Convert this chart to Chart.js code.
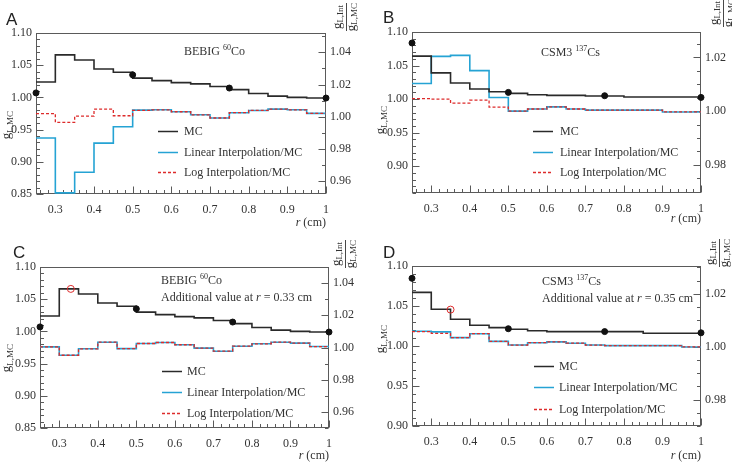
<!DOCTYPE html>
<html>
<head>
<meta charset="utf-8">
<script src="https://cdn.jsdelivr.net/npm/chart.js@4/dist/chart.umd.min.js"></script>
<style>
  body { margin: 0; background: #fff; width: 732px; height: 466px; position: relative; overflow: hidden; }
  .panel { position: absolute; width: 366px; height: 233px; }
</style>
</head>
<body>
<div class="panel" style="left:0;top:0"><canvas id="cA" width="366" height="233"></canvas></div>
<div class="panel" style="left:366px;top:0"><canvas id="cB" width="366" height="233"></canvas></div>
<div class="panel" style="left:0;top:233px"><canvas id="cC" width="366" height="233"></canvas></div>
<div class="panel" style="left:366px;top:233px"><canvas id="cD" width="366" height="233"></canvas></div>
<script>
// bins of r (cm), lower edges; last bin ends at rMax
const binLow = [0.25, 0.30, 0.35, 0.40, 0.45, 0.50, 0.55, 0.60, 0.65, 0.70, 0.75, 0.80, 0.85, 0.90, 0.95];
const rMax = 1.0;
const dotR = [0.25, 0.5, 0.75, 1.0];

// BEBIG 60Co (panels A and C)
const mcBebig = [1.024, 1.066, 1.058, 1.044, 1.039, 1.030, 1.026, 1.023, 1.021, 1.017, 1.012, 1.006, 1.002, 1.000, 0.999];
const dotsBebig = [1.007, 1.035, 1.0145, 0.999];
const linA = [0.9868, 0.9527, 0.9655, 0.9836, 0.9938, 1.0041, 1.0043, 1.0031, 1.0012, 0.9992, 1.0025, 1.0039, 1.0047, 1.0043, 1.0021];
const logA = [1.0019, 0.9965, 1.0004, 1.0047, 1.0006, 1.0039, 1.0043, 1.0031, 1.0012, 0.9992, 1.0025, 1.0039, 1.0047, 1.0043, 1.0021];
const linC = [1.0004, 0.9952, 0.9992, 1.0033, 0.9993, 1.0025, 1.0031, 1.0017, 0.9996, 0.9977, 1.0008, 1.0023, 1.0033, 1.0027, 1.0006];
const logC = [1.0004, 0.9952, 0.9992, 1.0033, 0.9993, 1.0025, 1.0031, 1.0017, 0.9996, 0.9977, 1.0008, 1.0023, 1.0033, 1.0027, 1.0006];
const extraC = { r: 0.33, g: 1.066 };

// CSM3 137Cs (panels B and D)
const mcCsmB = [1.064, 1.039, 1.024, 1.015, 1.011, 1.0085, 1.0065, 1.0055, 1.0055, 1.0045, 1.0045, 1.003, 1.003, 1.003, 1.003];
const dotsCsmB = [1.0836, 1.010, 1.005, 1.0025];
const linB = [1.0103, 1.0204, 1.0208, 1.0151, 1.0051, 1.0000, 1.0008, 1.0016, 1.0008, 1.0004, 1.0004, 1.0004, 1.0004, 0.9997, 0.9997];
const logB = [1.0047, 1.0045, 1.0030, 1.0041, 1.0015, 1.0000, 1.0008, 1.0016, 1.0008, 1.0004, 1.0004, 1.0004, 1.0004, 0.9997, 0.9997];
const mcCsmD = [1.067, 1.046, 1.0335, 1.026, 1.023, 1.021, 1.019, 1.018, 1.018, 1.018, 1.018, 1.018, 1.016, 1.016, 1.016];
const dotsCsmD = [1.0846, 1.0216, 1.018, 1.0165];
const linD = [1.0058, 1.0056, 1.0034, 1.0049, 1.0020, 1.0006, 1.0015, 1.0018, 1.0013, 1.0006, 1.0004, 1.0004, 1.0004, 1.0004, 0.9999];
const logD = [1.0057, 1.0050, 1.0034, 1.0049, 1.0020, 1.0006, 1.0015, 1.0018, 1.0013, 1.0006, 1.0004, 1.0004, 1.0004, 1.0004, 0.9999];
const extraD = { r: 0.35, g: 1.0455 };

// tick labels
const xTicks = [0.3, 0.4, 0.5, 0.6, 0.7, 0.8, 0.9, 1.0];
const yTicksCo = [0.85, 0.90, 0.95, 1.00, 1.05, 1.10];
const y2TicksCo = [0.96, 0.98, 1.00, 1.02, 1.04];
const yTicksCs = [0.90, 0.95, 1.00, 1.05, 1.10];
const y2TicksCs = [0.98, 1.00, 1.02];

const BLACK = '#2a2a2a', BLUE = '#25a3d4', RED = '#dd2b2b', FRAME = '#5a5a5a';
const SERIF = '"Liberation Serif", "DejaVu Serif", serif';

function hist(vals) {
  const pts = binLow.map((x, i) => ({ x: x, y: vals[i] }));
  pts.push({ x: rMax, y: vals[vals.length - 1] });
  return pts;
}

function steps(from, to, step) {
  const out = [];
  const n = Math.round((to - from) / step);
  for (let i = 0; i <= n; i++) out.push(+(from + i * step).toFixed(4));
  return out;
}

// draws rich text: parts = [[text, size, dy, italic]]
function rich(ctx, x, y, parts, align) {
  let w = 0;
  parts.forEach(p => { ctx.font = (p[3] ? 'italic ' : '') + p[1] + 'px ' + SERIF; w += ctx.measureText(p[0]).width; });
  let cx = align === 'right' ? x - w : align === 'center' ? x - w / 2 : x;
  parts.forEach(p => {
    ctx.font = (p[3] ? 'italic ' : '') + p[1] + 'px ' + SERIF;
    ctx.textAlign = 'left';
    ctx.fillText(p[0], cx, y + p[2]);
    cx += ctx.measureText(p[0]).width;
  });
  return w;
}

const deco = {
  id: 'deco',
  beforeDatasetsDraw(chart, args, o) {
    const { ctx, chartArea: a, scales } = chart;
    const L = Math.round(a.left) + 0.5, R = Math.round(a.right) - 0.5;
    const T = Math.round(a.top) + 0.5, B = Math.round(a.bottom) - 0.5;
    ctx.save();
    ctx.strokeStyle = FRAME;
    ctx.lineWidth = 1;
    ctx.strokeRect(L, T, R - L, B - T);
    ctx.beginPath();
    // x ticks, pointing up
    steps(0.26, 1.0, 0.02).forEach(v => {
      const px = Math.round(scales.x.getPixelForValue(v)) + 0.5;
      const major = xTicks.some(t => Math.abs(t - v) < 1e-6);
      ctx.moveTo(px, B); ctx.lineTo(px, B - (major ? 7 : 3.5));
    });
    // left ticks
    steps(o.yMinor[0], o.yMinor[1], 0.01).forEach(v => {
      const py = Math.round(scales.y.getPixelForValue(v)) + 0.5;
      const major = o.yTicks.some(t => Math.abs(t - v) < 1e-6);
      ctx.moveTo(L, py); ctx.lineTo(L + (major ? 7 : 3.5), py);
    });
    // right ticks
    steps(o.y2Minor[0], o.y2Minor[1], o.y2Minor[2]).forEach(v => {
      const py = Math.round(scales.y2.getPixelForValue(v)) + 0.5;
      const major = o.y2Ticks.some(t => Math.abs(t - v) < 1e-6);
      ctx.moveTo(R, py); ctx.lineTo(R - (major ? 7 : 3.5), py);
    });
    ctx.stroke();
    ctx.restore();
  },
  afterDraw(chart, args, o) {
    const { ctx, chartArea: a } = chart;
    ctx.save();
    ctx.fillStyle = '#222';
    ctx.textBaseline = 'alphabetic';
    // panel letter
    ctx.font = '17px "Liberation Sans", Arial, sans-serif';
    ctx.fillText(o.letter, o.letterPos[0], o.letterPos[1]);
    // labels in plot
    ctx.fillStyle = '#333';
    rich(ctx, o.labelPos[0], o.labelPos[1], o.source);
    if (o.extra) {
      rich(ctx, o.labelPos[0], o.labelPos[1] + 17, [['Additional value at ', 12, 0], ['r', 12, 0, true], [' = ' + o.extra + ' cm', 12, 0]]);
    }
    // legend
    const rows = [['MC', BLACK, []], ['Linear Interpolation/MC', BLUE, []], ['Log Interpolation/MC', RED, [3, 2]]];
    rows.forEach((r, i) => {
      const y = o.legend.y[i] + 0.5;
      ctx.strokeStyle = r[1];
      ctx.lineWidth = 1.5;
      ctx.setLineDash(r[2]);
      ctx.beginPath(); ctx.moveTo(o.legend.x0, y); ctx.lineTo(o.legend.x1, y); ctx.stroke();
      ctx.setLineDash([]);
      rich(ctx, o.legend.tx, o.legend.y[i] + 4, [[r[0], 12, 0]]);
    });
    // x axis title
    rich(ctx, a.right, o.xTitleY, [['r', 12, 0, true], [' (cm)', 12, 0]], 'right');
    // left axis title
    ctx.save();
    ctx.translate(o.leftTitle[0], o.leftTitle[1]);
    ctx.rotate(-Math.PI / 2);
    rich(ctx, 0, 4, [['g', 13, 0], ['L,MC', 9, 3]], 'center');
    ctx.restore();
    // right axis title (fraction)
    ctx.save();
    ctx.translate(o.rightTitle[0], o.rightTitle[1]);
    ctx.rotate(-Math.PI / 2);
    rich(ctx, 0, -5, [['g', 13, 0], ['L,Int', 9, 2]], 'center');
    rich(ctx, 0, 9, [['g', 13, 0], ['L,MC', 9, 2]], 'center');
    ctx.strokeStyle = '#333'; ctx.lineWidth = 0.9;
    ctx.beginPath(); ctx.moveTo(-14, 0.5); ctx.lineTo(14, 0.5); ctx.stroke();
    ctx.restore();
    ctx.restore();
  }
};

function makePanel(id, p) {
  const datasets = [
    { label: 'points', data: dotR.map((r, i) => ({ x: r, y: p.dots[i] })), yAxisID: 'y', showLine: false,
      pointRadius: 3, pointBackgroundColor: '#111', pointBorderColor: '#111', clip: false, order: 0 }
  ];
  if (p.extraPoint) {
    datasets.push({ label: 'additional', data: [{ x: p.extraPoint.r, y: p.extraPoint.g }], yAxisID: 'y', showLine: false,
      pointRadius: 3.5, pointBackgroundColor: 'rgba(0,0,0,0)', pointBorderColor: RED, pointBorderWidth: 1, clip: false, order: 0 });
  }
  datasets.push(
    { label: 'MC', data: hist(p.mc), yAxisID: 'y', showLine: true, stepped: 'before', borderColor: BLACK, borderWidth: 1.6, pointRadius: 0, order: 1 },
    { label: 'Log Interpolation/MC', data: hist(p.log), yAxisID: 'y2', showLine: true, stepped: 'before', borderColor: RED, borderWidth: 1.3, borderDash: [3, 2], pointRadius: 0, order: 2 },
    { label: 'Linear Interpolation/MC', data: hist(p.lin), yAxisID: 'y2', showLine: true, stepped: 'before', borderColor: BLUE, borderWidth: 1.6, pointRadius: 0, order: 3 }
  );
  const fixTicks = arr => (scale) => { scale.ticks = arr.map(v => ({ value: v })); };
  return new Chart(document.getElementById(id), {
    type: 'scatter',
    data: { datasets: datasets },
    options: {
      responsive: false,
      animation: false,
      devicePixelRatio: 1,
      layout: { padding: { top: p.box.top, left: 0, right: 0, bottom: 0 } },
      scales: {
        x: {
          type: 'linear', min: 0.25, max: rMax,
          grid: { display: false, drawTicks: false }, border: { display: false },
          afterBuildTicks: fixTicks(xTicks),
          afterFit: s => { s.height = 233 - p.box.bottom; },
          ticks: { padding: 9, color: '#333', font: { family: SERIF, size: 12 }, maxRotation: 0,
            callback: v => (v === 1 ? '1' : v.toFixed(1)) }
        },
        y: {
          position: 'left', min: p.yRange[0], max: p.yRange[1],
          grid: { display: false, drawTicks: false }, border: { display: false },
          afterBuildTicks: fixTicks(p.yTicks),
          afterFit: s => { s.width = p.box.left; },
          ticks: { padding: 4, color: '#333', font: { family: SERIF, size: 12 }, callback: v => v.toFixed(2) }
        },
        y2: {
          position: 'right', min: p.y2Range[0], max: p.y2Range[1],
          grid: { display: false, drawTicks: false }, border: { display: false },
          afterBuildTicks: fixTicks(p.y2Ticks),
          afterFit: s => { s.width = 366 - p.box.right; },
          ticks: { padding: 4, color: '#333', font: { family: SERIF, size: 12 }, callback: v => v.toFixed(2) }
        }
      },
      plugins: {
        legend: { display: false },
        tooltip: { enabled: false },
        deco: p.deco
      }
    },
    plugins: [deco]
  });
}

const coSource = [['BEBIG ', 12, 0], ['60', 8, -5], ['Co', 12, 0]];
const csSource = [['CSM3 ', 12, 0], ['137', 8, -5], ['Cs', 12, 0]];

makePanel('cA', {
  box: { left: 36, right: 326, top: 33, bottom: 194 },
  yRange: [0.85, 1.10], y2Range: [0.952, 1.052], yTicks: yTicksCo, y2Ticks: y2TicksCo,
  mc: mcBebig, dots: dotsBebig, lin: linA, log: logA,
  deco: { letter: 'A', letterPos: [6, 25], labelPos: [184, 55], source: coSource,
    legend: { x0: 158, x1: 178, tx: 184, y: [131, 152, 172] },
    xTitleY: 226, leftTitle: [6, 125], rightTitle: [346, 17],
    yTicks: yTicksCo, yMinor: [0.85, 1.10], y2Ticks: y2TicksCo, y2Minor: [0.96, 1.05, 0.01] }
});

makePanel('cB', {
  box: { left: 46, right: 335, top: 32, bottom: 193 },
  yRange: [0.86, 1.10], y2Range: [0.9695, 1.0295], yTicks: yTicksCs, y2Ticks: y2TicksCs,
  mc: mcCsmB, dots: dotsCsmB, lin: linB, log: logB,
  deco: { letter: 'B', letterPos: [17, 23], labelPos: [175, 56], source: csSource,
    legend: { x0: 167, x1: 187, tx: 194, y: [131, 152, 172] },
    xTitleY: 222, leftTitle: [14, 120], rightTitle: [357, 13],
    yTicks: yTicksCs, yMinor: [0.86, 1.10], y2Ticks: y2TicksCs, y2Minor: [0.97, 1.025, 0.005] }
});

makePanel('cC', {
  box: { left: 40, right: 329, top: 34, bottom: 195 },
  yRange: [0.85, 1.10], y2Range: [0.95, 1.05], yTicks: yTicksCo, y2Ticks: y2TicksCo,
  mc: mcBebig, dots: dotsBebig, lin: linC, log: logC, extraPoint: extraC,
  deco: { letter: 'C', letterPos: [13, 25], labelPos: [161, 51], source: coSource, extra: '0.33',
    legend: { x0: 162, x1: 182, tx: 187, y: [138, 159, 180] },
    xTitleY: 226, leftTitle: [6, 125], rightTitle: [345, 21],
    yTicks: yTicksCo, yMinor: [0.85, 1.10], y2Ticks: y2TicksCo, y2Minor: [0.95, 1.05, 0.01] }
});

makePanel('cD', {
  box: { left: 46, right: 335, top: 33, bottom: 193 },
  yRange: [0.90, 1.10], y2Range: [0.970, 1.0305], yTicks: yTicksCs, y2Ticks: y2TicksCs,
  mc: mcCsmD, dots: dotsCsmD, lin: linD, log: logD, extraPoint: extraD,
  deco: { letter: 'D', letterPos: [17, 25], labelPos: [176, 52], source: csSource, extra: '0.35',
    legend: { x0: 168, x1: 188, tx: 193, y: [133, 154, 176] },
    xTitleY: 226, leftTitle: [14, 106], rightTitle: [353, 20],
    yTicks: yTicksCs, yMinor: [0.90, 1.10], y2Ticks: y2TicksCs, y2Minor: [0.97, 1.03, 0.005] }
});
</script>
</body>
</html>
